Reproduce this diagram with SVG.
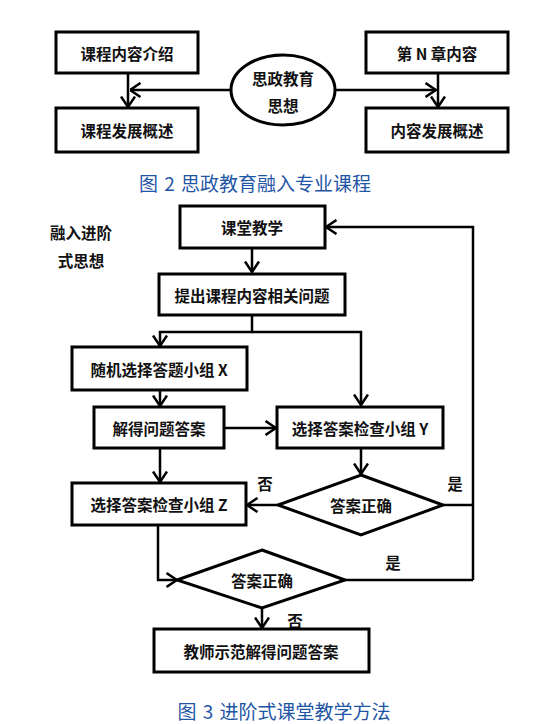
<svg xmlns="http://www.w3.org/2000/svg" width="544" height="724" viewBox="0 0 544 724">
<defs>
<style>
.box{fill:#fff;stroke:#000;stroke-width:3}
.ln{fill:none;stroke:#000;stroke-width:2.5}
.t{font-family:"Noto Sans CJK SC","Liberation Sans",sans-serif;font-weight:700;font-size:15.5px;fill:#111;text-anchor:middle;dominant-baseline:central}
.cap{font-family:"Noto Sans CJK SC","Liberation Sans",sans-serif;font-size:19px;fill:#1f55a5;text-anchor:middle;dominant-baseline:central;word-spacing:2px}
</style>
<marker id="ah" viewBox="0 0 12 16" refX="11.5" refY="8" markerWidth="12" markerHeight="16" markerUnits="userSpaceOnUse" orient="auto">
<path d="M1,1 L11.5,8 L1,15" fill="none" stroke="#000" stroke-width="2.5"/>
</marker>
</defs>
<rect width="544" height="724" fill="#fff"/>

<g id="connectors">
<path class="ln" d="M231,90 L130,90" marker-end="url(#ah)"/>
<path class="ln" d="M128,73 L128,107" marker-end="url(#ah)"/>
<path class="ln" d="M335,90 L436,90" marker-end="url(#ah)"/>
<path class="ln" d="M438,73 L438,107" marker-end="url(#ah)"/>

<path class="ln" d="M252,248 L252,272" marker-end="url(#ah)"/>
<path class="ln" d="M252,315 L252,332 L160,332 L160,346" marker-end="url(#ah)"/>
<path class="ln" d="M252,332 L361,332 L361,405" marker-end="url(#ah)"/>
<path class="ln" d="M160,390 L160,406" marker-end="url(#ah)"/>
<path class="ln" d="M224,428 L276,428" marker-end="url(#ah)"/>
<path class="ln" d="M361,448 L361,474" marker-end="url(#ah)"/>
<path class="ln" d="M160,448 L160,482" marker-end="url(#ah)"/>
<path class="ln" d="M278,505 L247,505" marker-end="url(#ah)"/>
<path class="ln" d="M443,505 L473,505"/>
<path class="ln" d="M473,580 L473,227 L326,227" marker-end="url(#ah)"/>
<path class="ln" d="M158,525 L158,580 L177,580" marker-end="url(#ah)"/>
<path class="ln" d="M345,580 L473,580"/>
<path class="ln" d="M262,608 L262,628" marker-end="url(#ah)"/>
</g>

<g id="n-intro"><rect class="box" x="56" y="32" width="142" height="41"/><text class="t" x="127" y="53">课程内容介绍</text></g>
<g id="n-dev"><rect class="box" x="56" y="108" width="142" height="44"/><text class="t" x="127" y="130">课程发展概述</text></g>
<g id="n-chapter"><rect class="box" x="366" y="32" width="142" height="41"/><text class="t" x="437" y="53">第 N 章内容</text></g>
<g id="n-cdev"><rect class="box" x="366" y="108" width="142" height="44"/><text class="t" x="437" y="130">内容发展概述</text></g>
<g id="n-idea"><ellipse class="box" cx="283" cy="90" rx="52" ry="35" stroke-width="3.5"/><text class="t" x="283" y="78">思政教育</text><text class="t" x="283" y="105">思想</text></g>
<text class="cap" x="255" y="182">图 2 思政教育融入专业课程</text>

<g id="n-label"><text class="t" x="81" y="232" font-size="14">融入进阶</text><text class="t" x="81" y="260" font-size="14">式思想</text></g>
<g id="n-class"><rect class="box" x="180" y="206" width="145" height="42"/><text class="t" x="252" y="227">课堂教学</text></g>
<g id="n-ask"><rect class="box" x="159" y="274" width="186" height="41"/><text class="t" x="252" y="295">提出课程内容相关问题</text></g>
<g id="n-x"><rect class="box" x="72" y="347" width="175" height="43"/><text class="t" x="159" y="369">随机选择答题小组 X</text></g>
<g id="n-solve"><rect class="box" x="94" y="407" width="130" height="41"/><text class="t" x="159" y="428">解得问题答案</text></g>
<g id="n-y"><rect class="box" x="277" y="407" width="166" height="41"/><text class="t" x="360" y="428">选择答案检查小组 Y</text></g>
<g id="n-d1"><polygon class="box" points="361,475 443,505 361,535 278,505"/><text class="t" x="361" y="505">答案正确</text></g>
<text class="t" x="265" y="483">否</text>
<text class="t" x="455" y="483">是</text>
<g id="n-z"><rect class="box" x="72" y="483" width="174" height="42"/><text class="t" x="159" y="504">选择答案检查小组 Z</text></g>
<g id="n-d2"><polygon class="box" points="262,550 345,580 262,608 177,580"/><text class="t" x="262" y="580">答案正确</text></g>
<text class="t" x="393" y="562">是</text>
<text class="t" x="295" y="620">否</text>
<g id="n-teacher"><rect class="box" x="154" y="629" width="215" height="43"/><text class="t" x="261" y="651">教师示范解得问题答案</text></g>
<text class="cap" x="284" y="710">图 3 进阶式课堂教学方法</text>
</svg>
